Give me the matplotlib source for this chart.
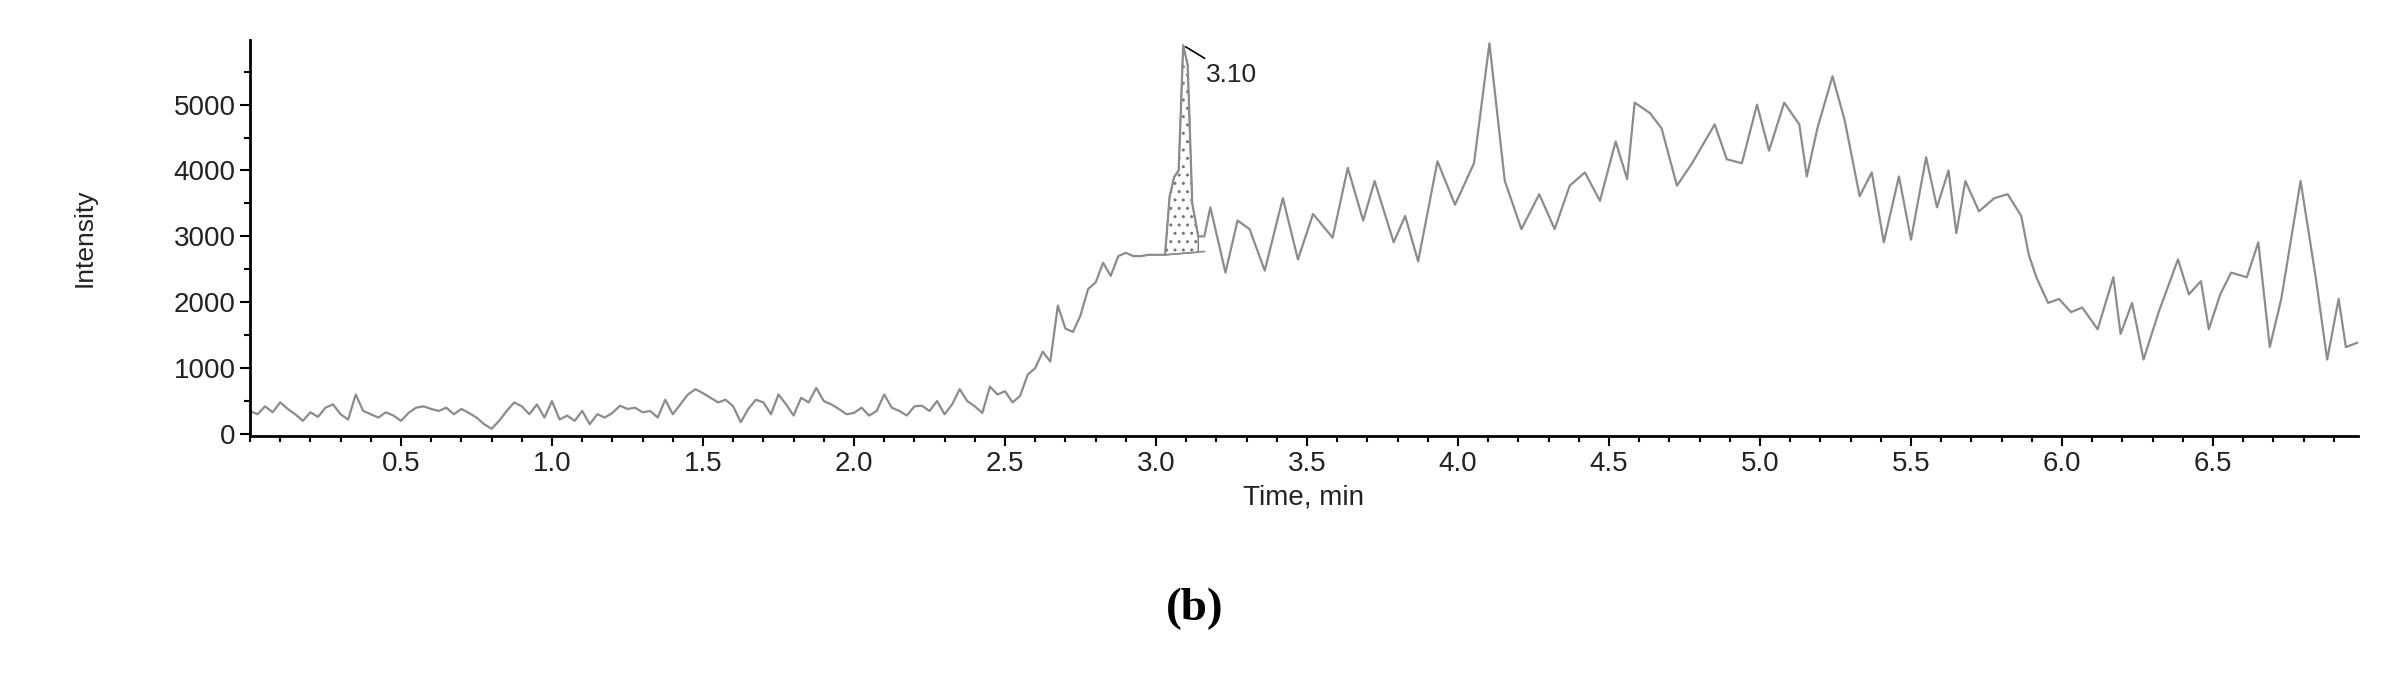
import numpy as np
import matplotlib
matplotlib.use("Agg")
import matplotlib.pyplot as plt
from matplotlib.ticker import MultipleLocator

t_left = np.round(np.arange(0, 3.0, 0.025), 3)
v_left = [350,300,420,330,480,380,300,200,330,260,400,450,300,220,600,350,300,250,330,280,
          200,320,400,420,380,350,400,300,380,320,250,150,80,200,350,480,420,300,450,250,
          500,220,280,200,350,150,300,250,320,430,380,400,330,350,250,520,300,450,600,680,
          620,550,480,520,420,180,380,520,480,300,600,450,280,550,480,700,500,450,380,300,
          320,400,280,350,600,400,350,280,420,430,350,500,300,450,680,500,420,320,720,600,
          650,480,580,900,1000,1250,1100,1950,1600,1550,1800,2200,2300,2600,2400,2700,2750,2700,2700,2720]
t_peak = [3.0,3.03,3.045,3.06,3.075,3.09,3.105,3.12,3.14,3.16]
v_peak = [2700,2720,3600,3900,4000,5900,5600,3500,3000,3000]
t_right = [3.18,3.23,3.27,3.31,3.36,3.42,3.47,3.52,3.585,3.635,3.686,3.724,3.787,3.825,3.868,3.932,3.99,
           4.053,4.104,4.155,4.21,4.269,4.32,4.37,4.42,4.47,4.522,4.56,4.585,4.636,4.674,4.725,4.775,4.85,
           4.89,4.94,4.99,5.03,5.08,5.13,5.155,5.19,5.24,5.28,5.33,5.37,5.41,5.46,5.5,5.55,5.586,5.624,5.65,
           5.68,5.725,5.776,5.82,5.865,5.89,5.915,5.954,5.99,6.03,6.067,6.118,6.17,6.194,6.232,6.27,6.32,
           6.384,6.42,6.46,6.486,6.524,6.56,6.612,6.65,6.688,6.726,6.79,6.84,6.878,6.916,6.94,6.98]
v_right = [3440,2450,3240,3110,2480,3580,2650,3340,2980,4040,3240,3840,2910,3310,2620,4140,3480,
           4110,5930,3840,3110,3640,3110,3770,3970,3540,4440,3870,5030,4870,4640,3770,4110,4700,
           4170,4110,5000,4300,5030,4700,3910,4640,5430,4770,3610,3970,2910,3910,2950,4200,3440,4000,3050,
           3840,3380,3580,3640,3310,2720,2380,1990,2050,1850,1920,1590,2380,1520,1990,1130,1850,
           2650,2120,2320,1590,2120,2450,2380,2910,1320,2050,3840,2380,1130,2050,1320,1390]

t = np.concatenate([t_left, t_peak[1:], t_right])
v = np.concatenate([v_left, v_peak[1:], v_right]).astype(float)

FONT = "Liberation Sans"
fig = plt.figure(figsize=(23.9, 6.82), dpi=100)
ax = fig.add_axes([0.1046, 0.3607, 0.882, 0.5806])
ax.plot(t, v, color="#8c8c8c", lw=1.6)

m = (t >= 3.03) & (t <= 3.14)
tp = t[m]; vp = v[m]
base = np.interp(tp, [tp[0], tp[-1]], [vp[0], 2760])
ax.fill_between(tp, base, vp, facecolor="white", edgecolor="#777777", hatch="..", lw=1)
ax.plot([tp[0], 3.16], [vp[0], 2770], color="#8c8c8c", lw=1.2)
ax.annotate("3.10", xy=(3.09, 5900), xytext=(3.165, 5350), fontsize=19,
            family=FONT, color="#222222",
            arrowprops=dict(arrowstyle="-", color="black", lw=1.2))

ax.set_xlim(0, 6.98)
ax.set_ylim(-30, 5980)
for s in ["top", "right"]:
    ax.spines[s].set_visible(False)
ax.spines["left"].set_linewidth(2)
ax.spines["bottom"].set_linewidth(2)
ax.xaxis.set_minor_locator(MultipleLocator(0.1))
ax.set_yticks([0, 1000, 2000, 3000, 4000, 5000])
ax.yaxis.set_minor_locator(MultipleLocator(500))
ax.set_xticks([0.5,1.0,1.5,2.0,2.5,3.0,3.5,4.0,4.5,5.0,5.5,6.0,6.5])
ax.set_xticklabels(["0.5","1.0","1.5","2.0","2.5","3.0","3.5","4.0","4.5","5.0","5.5","6.0","6.5"])
ax.tick_params(axis="both", which="major", labelsize=20, length=7, width=1.5, colors="black")
ax.tick_params(axis="both", which="minor", length=4, width=1.5)
for lab in ax.get_xticklabels() + ax.get_yticklabels():
    lab.set_family(FONT)
    lab.set_color("#222222")
ax.set_xlabel("Time, min", fontsize=20, family=FONT, color="#222222", labelpad=6)
ax.set_ylabel("Intensity", fontsize=19, family=FONT, color="#222222", labelpad=55)
fig.text(0.5, 0.107, "(b)", fontsize=34, family="Liberation Serif", fontweight="bold", ha="center", va="center")
fig.savefig("out.png", dpi=100)
